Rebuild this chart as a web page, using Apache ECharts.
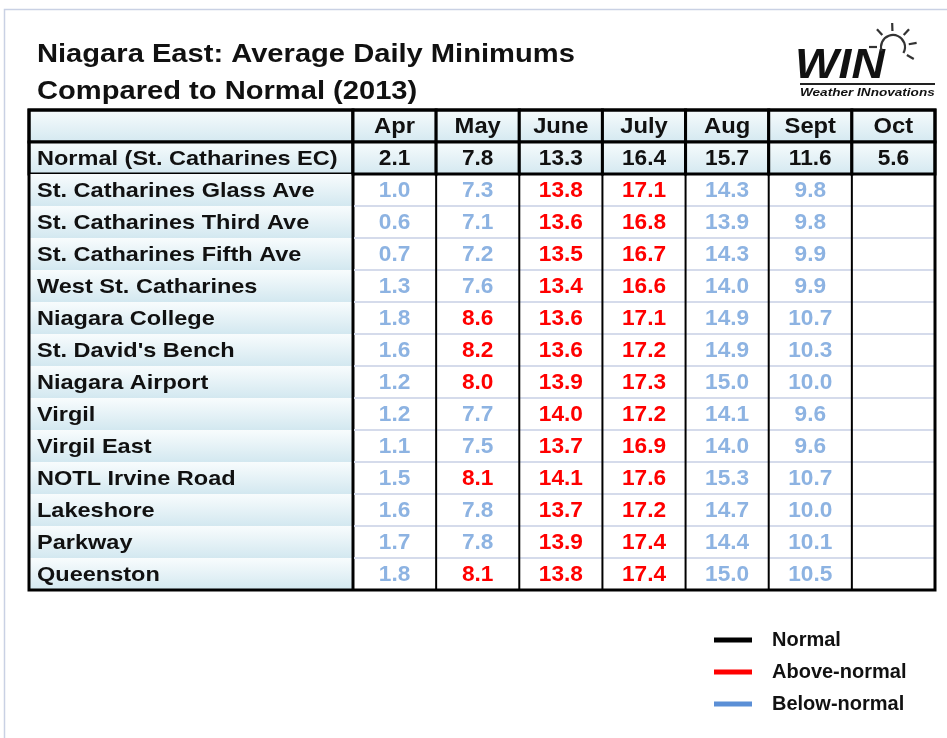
<!DOCTYPE html>
<html>
<head>
<meta charset="utf-8">
<script src="https://cdn.jsdelivr.net/npm/echarts@6/dist/echarts.min.js"></script>
<style>
html,body{margin:0;padding:0;background:#fff;}
#chart{width:947px;height:738px;}
</style>
</head>
<body>
<div id="chart"></div>
<script>
// ---------- DATA ----------
const titleLines = ['Niagara East: Average Daily Minimums', 'Compared to Normal (2013)'];
const months = ['Apr', 'May', 'June', 'July', 'Aug', 'Sept', 'Oct'];
const normalLabel = 'Normal (St. Catharines EC)';
const normals = [2.1, 7.8, 13.3, 16.4, 15.7, 11.6, 5.6];
const stations = [
  'St. Catharines Glass Ave', 'St. Catharines Third Ave', 'St. Catharines Fifth Ave',
  'West St. Catharines', 'Niagara College', "St. David's Bench", 'Niagara Airport',
  'Virgil', 'Virgil East', 'NOTL Irvine Road', 'Lakeshore', 'Parkway', 'Queenston'
];
const apr  = [1.0, 0.6, 0.7, 1.3, 1.8, 1.6, 1.2, 1.2, 1.1, 1.5, 1.6, 1.7, 1.8];
const may  = [7.3, 7.1, 7.2, 7.6, 8.6, 8.2, 8.0, 7.7, 7.5, 8.1, 7.8, 7.8, 8.1];
const june = [13.8, 13.6, 13.5, 13.4, 13.6, 13.6, 13.9, 14.0, 13.7, 14.1, 13.7, 13.9, 13.8];
const july = [17.1, 16.8, 16.7, 16.6, 17.1, 17.2, 17.3, 17.2, 16.9, 17.6, 17.2, 17.4, 17.4];
const aug  = [14.3, 13.9, 14.3, 14.0, 14.9, 14.9, 15.0, 14.1, 14.0, 15.3, 14.7, 14.4, 15.0];
const sept = [9.8, 9.8, 9.9, 9.9, 10.7, 10.3, 10.0, 9.6, 9.6, 10.7, 10.0, 10.1, 10.5];
const oct  = [];
const legendNames = ['Normal', 'Above-normal', 'Below-normal'];

// ---------- STYLE ----------
const FONT = '"Liberation Sans", Arial, sans-serif';
const C_RED = '#ff0000', C_BLUE = '#8db3e2';
const LEG_COLORS = ['#000000', '#ff0000', '#5b8fd6'];
const monthCols = [apr, may, june, july, aug, sept, oct];
const rows = ['', normalLabel].concat(stations);

function grad() {
  return new echarts.graphic.LinearGradient(0, 0, 0, 1, [
    { offset: 0, color: '#f8fcfd' },
    { offset: 1, color: '#d3e8f0' }
  ]);
}

const labelData = rows.map((r, i) => [0, i]);
// [col, row, text, kind]  kind: 0 header,1 normal,2 above,3 below,4 empty
const cellData = [];
months.forEach((m, c) => {
  cellData.push([c, 0, m, 0]);
  cellData.push([c, 1, normals[c].toFixed(1), 1]);
  stations.forEach((s, r) => {
    const v = monthCols[c][r];
    if (v === undefined) cellData.push([c, r + 2, '', 4]);
    else cellData.push([c, r + 2, v.toFixed(1), v > normals[c] ? 2 : 3]);
  });
});

function renderLabel(params, api) {
  const row = api.value(1);
  const p = api.coord([0, row]);
  const s = api.size([1, 1]);
  const x0 = p[0] - s[0] / 2, y0 = p[1] - s[1] / 2;
  const children = [{
    type: 'rect',
    shape: { x: x0, y: y0, width: s[0], height: s[1] },
    style: { fill: grad(), stroke: row < 2 ? '#000' : null, lineWidth: row < 2 ? 3 : 0 }
  }];
  if (rows[row]) {
    children.push({
      type: 'text', x: x0 + 8, y: p[1] + 1, scaleX: 1.12,
      style: { text: rows[row], font: 'bold 21px ' + FONT, fill: '#111', textAlign: 'left', textVerticalAlign: 'middle' }
    });
  }
  children.push({
    type: 'line', shape: { x1: x0 + s[0], y1: y0, x2: x0 + s[0], y2: y0 + s[1] },
    style: { stroke: '#000', lineWidth: 3 }
  });
  return { type: 'group', children: children };
}

function renderCell(params, api) {
  const col = api.value(0), row = api.value(1);
  const item = cellData[params.dataIndex];
  const kind = item[3];
  const p = api.coord([col, row]);
  const s = api.size([1, 1]);
  const x0 = p[0] - s[0] / 2, y0 = p[1] - s[1] / 2;
  const children = [];
  if (kind <= 1) {
    children.push({
      type: 'rect', shape: { x: x0, y: y0, width: s[0], height: s[1] },
      style: { fill: grad(), stroke: '#000', lineWidth: 3 }
    });
  } else {
    children.push({
      type: 'line', shape: { x1: x0, y1: y0 + s[1], x2: x0 + s[0], y2: y0 + s[1] },
      style: { stroke: '#d5dbeb', lineWidth: 2 }
    });
    children.push({
      type: 'line', shape: { x1: x0, y1: y0, x2: x0, y2: y0 + s[1] },
      style: { stroke: '#000', lineWidth: 2 }
    });
  }
  const color = kind <= 1 ? '#111' : (kind === 2 ? C_RED : C_BLUE);
  if (item[2]) {
    children.push({
      type: 'text', x: p[0], y: p[1] + 1, scaleX: kind === 0 ? 1.08 : 1.03,
      style: { text: item[2], font: 'bold 22px ' + FONT, fill: color, textAlign: 'center', textVerticalAlign: 'middle' }
    });
  }
  return { type: 'group', children: children };
}

const chart = echarts.init(document.getElementById('chart'), null, { renderer: 'canvas' });

const deg = Math.PI / 180;
const sunCx = 893, sunCy = 47;
const rayAngles = [180, 228, 268, 312, 350, 30];
const rays = rayAngles.map(a => ({
  type: 'line',
  shape: { x1: sunCx + 16 * Math.cos(a * deg), y1: sunCy + 16 * Math.sin(a * deg), x2: sunCx + 24 * Math.cos(a * deg), y2: sunCy + 24 * Math.sin(a * deg) },
  style: { stroke: '#333', lineWidth: 2.2 }
}));

chart.setOption({
  animation: false,
  backgroundColor: '#ffffff',
  grid: [
    { left: 29, top: 110, width: 324, height: 480, containLabel: false },
    { left: 353, top: 110, width: 582, height: 480, containLabel: false }
  ],
  xAxis: [
    { gridIndex: 0, type: 'category', data: ['Station'], show: false },
    { gridIndex: 1, type: 'category', data: months, show: false }
  ],
  yAxis: [
    { gridIndex: 0, type: 'category', data: rows, inverse: true, show: false },
    { gridIndex: 1, type: 'category', data: rows, inverse: true, show: false }
  ],
  legend: {
    orient: 'vertical', left: 714, top: 630, padding: 0,
    itemWidth: 38, itemHeight: 5, itemGap: 12, icon: 'rect',
    data: legendNames,
    textStyle: { fontFamily: FONT, fontWeight: 'bold', fontSize: 20, color: '#111', padding: [0, 0, 0, 15] }
  },
  series: [
    { type: 'custom', name: 'labels', xAxisIndex: 0, yAxisIndex: 0, renderItem: renderLabel, data: labelData, silent: true },
    { type: 'custom', name: 'cells', xAxisIndex: 1, yAxisIndex: 1, renderItem: renderCell, data: cellData, silent: true, z: 3 },
    { type: 'line', name: legendNames[0], xAxisIndex: 1, yAxisIndex: 1, data: [], color: LEG_COLORS[0] },
    { type: 'line', name: legendNames[1], xAxisIndex: 1, yAxisIndex: 1, data: [], color: LEG_COLORS[1] },
    { type: 'line', name: legendNames[2], xAxisIndex: 1, yAxisIndex: 1, data: [], color: LEG_COLORS[2] }
  ],
  graphic: [
    { type: 'rect', shape: { x: 4.5, y: 9.5, width: 1200, height: 1200 }, style: { fill: null, stroke: '#c9d1e4', lineWidth: 1.5 }, z: 0 },
    { type: 'text', x: 37, y: 55, scaleX: 1.12, style: { text: titleLines[0], font: 'bold 26px ' + FONT, fill: '#111', textVerticalAlign: 'middle' } },
    { type: 'text', x: 37, y: 92, scaleX: 1.12, style: { text: titleLines[1], font: 'bold 26px ' + FONT, fill: '#111', textVerticalAlign: 'middle' } },
    { type: 'rect', shape: { x: 29, y: 110, width: 906, height: 480 }, style: { fill: null, stroke: '#000', lineWidth: 3 }, z: 100 },
    { type: 'text', x: 795, y: 66, scaleX: 1.1, style: { text: 'WIN', font: 'italic 900 42px ' + FONT, fill: '#111', textVerticalAlign: 'middle' } },
    { type: 'line', shape: { x1: 800, y1: 84, x2: 935, y2: 84 }, style: { stroke: '#222', lineWidth: 2 } },
    { type: 'text', x: 800, y: 93, scaleX: 1.18, style: { text: 'Weather INnovations', font: 'italic bold 11.5px ' + FONT, fill: '#111', textVerticalAlign: 'middle' } },
    { type: 'arc', shape: { cx: sunCx, cy: sunCy, r: 12, startAngle: 160 * deg, endAngle: 390 * deg, clockwise: true }, style: { stroke: '#333', lineWidth: 2.2, fill: null } }
  ].concat(rays)
});
</script>
</body>
</html>
